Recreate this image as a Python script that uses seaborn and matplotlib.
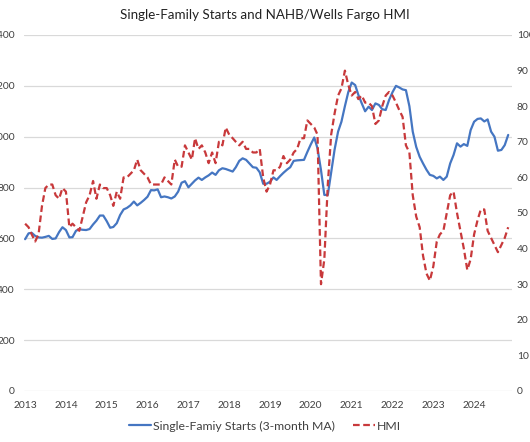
import numpy as np
import pandas as pd
import matplotlib
matplotlib.use('Agg')
import matplotlib.pyplot as plt
import matplotlib.dates as mdates
import seaborn as sns

# single-family starts, 3-month MA (thousands), Jan 2013 - Oct 2024
starts = [597, 620, 622, 610, 604, 603, 606, 610, 598, 600, 625, 644,
          633, 604, 605, 630, 636, 634, 633, 637, 655, 670, 690, 690,
          668, 642, 645, 660, 692, 714, 720, 730, 745, 730, 740, 751,
          764, 790, 789, 793, 762, 765, 762, 757, 765, 784, 819, 825,
          801, 815, 828, 839, 830, 840, 848, 859, 850, 868, 876, 873,
          868, 863, 880, 905, 915, 909, 895, 880, 878, 860, 815, 815,
          823, 840, 830, 845, 858, 870, 880, 905, 907, 908, 909, 940,
          970, 997, 954, 869, 771, 771, 860, 950, 1020, 1059, 1120, 1175,
          1213, 1203, 1165, 1131, 1100, 1118, 1105, 1131, 1125, 1108, 1105, 1144,
          1175, 1200, 1194, 1186, 1183, 1120, 1020, 960, 921, 895, 870, 850,
          846, 836, 843, 830, 843, 895, 928, 974, 961, 971, 964, 1026,
          1059, 1070, 1072, 1060, 1068, 1020, 1000, 945, 948, 967, 1007]

# NAHB/Wells Fargo HMI, Jan 2013 - Nov 2024
hmi = [47, 46, 44, 42, 44, 52, 57, 58, 58, 55, 54, 57,
       56, 46, 47, 46, 45, 49, 53, 55, 59, 54, 58, 57,
       57, 55, 52, 56, 54, 60, 60, 61, 62, 65, 62, 61,
       60, 58, 58, 58, 58, 60, 59, 58, 65, 63, 63, 69,
       67, 65, 71, 68, 69, 67, 64, 67, 64, 70, 69, 74,
       72, 71, 70, 69, 70, 68, 68, 67, 67, 68, 60, 56,
       58, 62, 62, 63, 66, 64, 65, 67, 68, 71, 71, 76,
       75, 74, 72, 30, 37, 58, 72, 78, 83, 85, 90, 86,
       83, 84, 82, 83, 81, 81, 80, 75, 76, 80, 83, 84,
       83, 81, 79, 77, 69, 67, 55, 49, 46, 38, 33, 31,
       35, 42, 44, 45, 50, 55, 56, 50, 45, 40, 34, 37,
       44, 48, 51, 51, 45, 43, 41, 39, 41, 43, 46]

df_s = pd.DataFrame({'date': pd.date_range('2013-01-01', periods=len(starts), freq='MS'),
                     'starts': starts})
df_h = pd.DataFrame({'date': pd.date_range('2013-01-01', periods=len(hmi), freq='MS'),
                     'hmi': hmi})

sns.set_style('white')
plt.rcParams['font.family'] = ['Lato', 'DejaVu Sans']

blue = '#4576C2'
red = '#C8393B'

fig = plt.figure(figsize=(5.3, 4.42), dpi=100)
ax = fig.add_axes([24/530, 1-391/442, 488/530, 356/442])
ax2 = ax.twinx()

sns.lineplot(data=df_s, x='date', y='starts', ax=ax, color=blue, lw=1.6,
             label='Single-Famiy Starts (3-month MA)', legend=False)
sns.lineplot(data=df_h, x='date', y='hmi', ax=ax2, color=red, lw=1.6,
             ls=(0, (3, 1.6)), label='HMI', legend=False)

ax.set_ylim(0, 1400)
ax.set_yticks(range(0, 1401, 200))
ax2.set_ylim(0, 100)
ax2.set_yticks(range(0, 101, 10))
ax.set_xlim(pd.Timestamp('2012-12-22'), pd.Timestamp('2024-12-05'))
ax.xaxis.set_major_locator(mdates.YearLocator())
ax.xaxis.set_major_formatter(mdates.DateFormatter('%Y'))

ax.grid(axis='y', color='#d9d9d9', lw=0.9)
ax.set_axisbelow(True)
for a in (ax, ax2):
    for s in a.spines.values():
        s.set_visible(False)
    a.set_xlabel('')
    a.set_ylabel('')
ax.tick_params(axis='both', length=0, labelsize=7.4, colors='#404040')
ax.tick_params(axis='y', pad=6.5)
ax.tick_params(axis='x', pad=7.5)
ax2.tick_params(axis='y', length=0, labelsize=7.4, colors='#404040', pad=3.5)

fig.suptitle('Single-Family Starts and NAHB/Wells Fargo HMI', x=0.5, y=1-15/442,
             va='center', fontsize=9.6, color='#222222')

h1, l1 = ax.get_legend_handles_labels()
h2, l2 = ax2.get_legend_handles_labels()
fig.legend(h1 + h2, l1 + l2, loc='center', bbox_to_anchor=(0.5, 1-426/442),
           ncol=2, frameon=False, fontsize=8.8, handlelength=1.8, handletextpad=0.15,
           columnspacing=1.5, labelcolor='#404040')

fig.savefig('out.png', dpi=100)
